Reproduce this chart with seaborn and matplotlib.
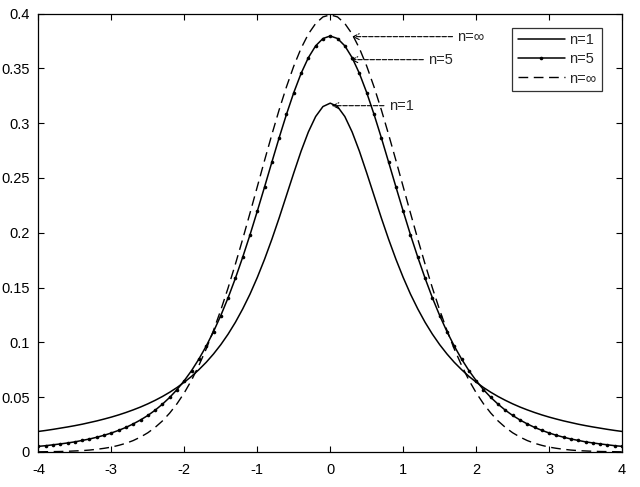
import matplotlib
matplotlib.use("Agg")
import matplotlib.pyplot as plt
import matplotlib.ticker as mticker
import seaborn as sns

# sample points on the x axis
x_vals = [-4.0, -3.9, -3.8, -3.7, -3.6, -3.5, -3.4, -3.3, -3.2, -3.1,
          -3.0, -2.9, -2.8, -2.7, -2.6, -2.5, -2.4, -2.3, -2.2, -2.1,
          -2.0, -1.9, -1.8, -1.7, -1.6, -1.5, -1.4, -1.3, -1.2, -1.1,
          -1.0, -0.9, -0.8, -0.7, -0.6, -0.5, -0.4, -0.3, -0.2, -0.1,
          0.0, 0.1, 0.2, 0.3, 0.4, 0.5, 0.6, 0.7, 0.8, 0.9,
          1.0, 1.1, 1.2, 1.3, 1.4, 1.5, 1.6, 1.7, 1.8, 1.9,
          2.0, 2.1, 2.2, 2.3, 2.4, 2.5, 2.6, 2.7, 2.8, 2.9,
          3.0, 3.1, 3.2, 3.3, 3.4, 3.5, 3.6, 3.7, 3.8, 3.9, 4.0]

# n=1 curve
n1_vals = [0.0187, 0.0196, 0.0206, 0.0217, 0.0228, 0.0240, 0.0253, 0.0268, 0.0283, 0.0300,
           0.0318, 0.0338, 0.0360, 0.0384, 0.0410, 0.0439, 0.0471, 0.0506, 0.0545, 0.0588,
           0.0637, 0.0690, 0.0751, 0.0818, 0.0894, 0.0979, 0.1075, 0.1183, 0.1305, 0.1440,
           0.1592, 0.1759, 0.1941, 0.2136, 0.2341, 0.2546, 0.2744, 0.2920, 0.3061, 0.3152,
           0.3183, 0.3152, 0.3061, 0.2920, 0.2744, 0.2546, 0.2341, 0.2136, 0.1941, 0.1759,
           0.1592, 0.1440, 0.1305, 0.1183, 0.1075, 0.0979, 0.0894, 0.0818, 0.0751, 0.0690,
           0.0637, 0.0588, 0.0545, 0.0506, 0.0471, 0.0439, 0.0410, 0.0384, 0.0360, 0.0338,
           0.0318, 0.0300, 0.0283, 0.0268, 0.0253, 0.0240, 0.0228, 0.0217, 0.0206, 0.0196, 0.0187]

# n=5 curve
n5_vals = [0.0051, 0.0057, 0.0065, 0.0073, 0.0082, 0.0092, 0.0105, 0.0118, 0.0134, 0.0152,
           0.0173, 0.0197, 0.0224, 0.0256, 0.0292, 0.0333, 0.0381, 0.0436, 0.0498, 0.0569,
           0.0651, 0.0743, 0.0848, 0.0966, 0.1098, 0.1245, 0.1407, 0.1585, 0.1777, 0.1981,
           0.2197, 0.2419, 0.2645, 0.2868, 0.3081, 0.3279, 0.3454, 0.3598, 0.3706, 0.3773,
           0.3796, 0.3773, 0.3706, 0.3598, 0.3454, 0.3279, 0.3081, 0.2868, 0.2645, 0.2419,
           0.2197, 0.1981, 0.1777, 0.1585, 0.1407, 0.1245, 0.1098, 0.0966, 0.0848, 0.0743,
           0.0651, 0.0569, 0.0498, 0.0436, 0.0381, 0.0333, 0.0292, 0.0256, 0.0224, 0.0197,
           0.0173, 0.0152, 0.0134, 0.0118, 0.0105, 0.0092, 0.0082, 0.0073, 0.0065, 0.0057, 0.0051]

# n=inf curve
ninf_vals = [0.0001, 0.0002, 0.0003, 0.0004, 0.0006, 0.0009, 0.0012, 0.0017, 0.0024, 0.0033,
             0.0044, 0.0060, 0.0079, 0.0104, 0.0136, 0.0175, 0.0224, 0.0283, 0.0355, 0.0440,
             0.0540, 0.0656, 0.0790, 0.0940, 0.1109, 0.1295, 0.1497, 0.1714, 0.1942, 0.2179,
             0.2420, 0.2661, 0.2897, 0.3123, 0.3332, 0.3521, 0.3683, 0.3814, 0.3910, 0.3970,
             0.3989, 0.3970, 0.3910, 0.3814, 0.3683, 0.3521, 0.3332, 0.3123, 0.2897, 0.2661,
             0.2420, 0.2179, 0.1942, 0.1714, 0.1497, 0.1295, 0.1109, 0.0940, 0.0790, 0.0656,
             0.0540, 0.0440, 0.0355, 0.0283, 0.0224, 0.0175, 0.0136, 0.0104, 0.0079, 0.0060,
             0.0044, 0.0033, 0.0024, 0.0017, 0.0012, 0.0009, 0.0006, 0.0004, 0.0003, 0.0002, 0.0001]

x_ticks = [-4, -3, -2, -1, 0, 1, 2, 3, 4]
y_ticks = [0, 0.05, 0.1, 0.15, 0.2, 0.25, 0.3, 0.35, 0.4]

# annotation labels: (text, text pos, arrow tip)
notes = [("n=\u221e", (1.74, 0.379), (0.30, 0.379)),
         ("n=5", (1.34, 0.358), (0.28, 0.358)),
         ("n=1", (0.80, 0.316), (0.02, 0.316))]

sns.set_style("ticks")
plt.rcParams['font.family'] = ['Liberation Sans', 'DejaVu Sans']
plt.rcParams['axes.unicode_minus'] = False

fig = plt.figure(figsize=(6.4, 4.87), dpi=100)
ax = fig.add_axes([0.06, 0.072, 0.912, 0.9])

sns.lineplot(x=x_vals, y=n1_vals, ax=ax, color='black', linewidth=1.1, label='n=1')
sns.lineplot(x=x_vals, y=n5_vals, ax=ax, color='black', linewidth=1.1,
             marker='o', markersize=2.6, markeredgewidth=0, label='n=5')
sns.lineplot(x=x_vals, y=ninf_vals, ax=ax, color='black', linewidth=1.0, label='n=\u221e')
ax.lines[2].set_dashes([7, 4])

for txt, tpos, tip in notes:
    ax.annotate(txt, xy=tip, xytext=tpos, fontsize=10.5, va='center', ha='left',
                arrowprops=dict(arrowstyle='->', color='black', lw=0.8,
                                linestyle=(0, (4, 1.5)), shrinkA=1, shrinkB=0))

ax.set_xlim(-4, 4)
ax.set_ylim(0, 0.4)
ax.set_xticks(x_ticks)
ax.set_yticks(y_ticks)
ax.yaxis.set_major_formatter(mticker.FormatStrFormatter('%g'))
ax.tick_params(direction='in', top=True, right=True, length=4, width=0.8,
               labelsize=10.5, colors='black')
ax.tick_params(axis='x', pad=8)
ax.tick_params(axis='y', pad=6)
for s in ax.spines.values():
    s.set_visible(True)
    s.set_linewidth(0.9)
    s.set_color('black')

leg = ax.legend(loc='upper right', bbox_to_anchor=(0.978, 0.985), fontsize=10.5,
                frameon=True, fancybox=False, edgecolor='black', handlelength=3.2,
                borderpad=0.4, labelspacing=0.35, handletextpad=0.3)
leg.get_frame().set_linewidth(0.9)

fig.savefig('out.png', dpi=100)
